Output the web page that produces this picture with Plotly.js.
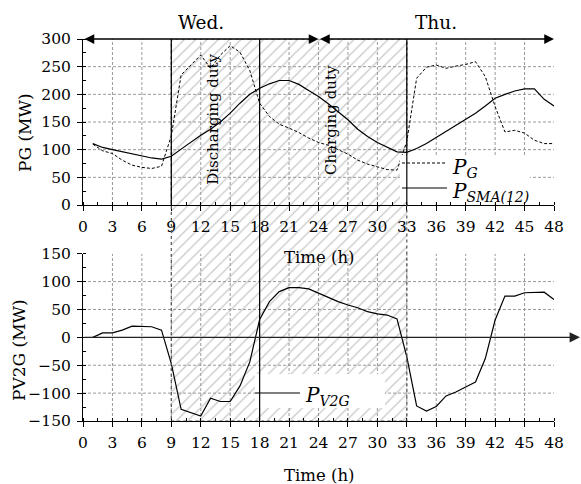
<!DOCTYPE html>
<html>
<head>
<meta charset="utf-8">
<script src="https://cdn.plot.ly/plotly-3.0.1.min.js"></script>
<style>html,body{margin:0;padding:0;background:#fff;}#chart{width:581px;height:484px;}</style>
</head>
<body>
<div id="chart"></div>
<script>
// ---- data ----
var hours = [1,2,3,4,5,6,7,8,9,10,11,12,13,14,15,16,17,18,19,20,21,22,23,24,
             25,26,27,28,29,30,31,32,33,34,35,36,37,38,39,40,41,42,43,44,45,46,47,48];
var pG = [110,98,93,81,72,68,66,70,125,235,253,271,247,271,288,276,243,184,160,146,139,131,121,113,
          108,100,92,81,74,69,64,63,115,229,249,253,247,251,254,259,232,178,132,135,130,117,111,111];
var pSMA = [111,104,100,96,92,88,85,83,88,101,114,126,137,150,166,184,200,211,219,225,225,218,207,196,
            183,169,154,137,124,113,104,96,95,102,111,122,132,143,154,166,179,193,200,206,210,210,191,179];
var pV2G = [0,8,8,13,20,20,19,13,-47,-129,-135,-141,-109,-115,-115,-87,-44,32,64,82,89,89,87,79,
            71,64,58,53,46,42,40,33,-35,-123,-132,-124,-105,-98,-89,-80,-38,31,74,74,80,81,81,68];
var xTickVals = [0,3,6,9,12,15,18,21,24,27,30,33,36,39,42,45,48];
var gridX = [3,6,9,12,15,18,21,24,27,30,33,36,39,42,45];
var gridYTop = [50,100,150,200,250];
var gridYBot = [-100,-50,50,100];
var dutyStart = 9, dutyMid = 18, dutyEnd = 33, dayBreak = 24;
var dayLabels = ['Wed.', 'Thu.'];
var dayLabelX = [12, 36];

// ---- geometry helpers (pixels -> paper) ----
var L = 83, R = 554, T = 39, B = 421;
function pxX(p){ return (p - L) / (R - L); }
function pxY(p){ return (B - p) / (B - T); }

var serif = "'DejaVu Serif', 'Liberation Serif', serif";
var gridStyle = {color:'#9a9a9a', width:1, dash:'3px,2px'};

var traces = [
  { x:[dutyStart,dutyEnd,dutyEnd,dutyStart,dutyStart], y:[0,0,1,1,0], xaxis:'x', yaxis:'y',
    mode:'lines', line:{width:0}, fill:'toself', fillcolor:'rgba(0,0,0,0)',
    fillpattern:{shape:'/', size:8, solidity:0.16, fgcolor:'#c8c8c8', bgcolor:'rgba(255,255,255,0)'},
    hoverinfo:'skip', showlegend:false },
  { x:hours, y:pG, xaxis:'x2', yaxis:'y2', mode:'lines', name:'PG',
    line:{color:'#000', width:1, dash:'3px,2px'}, showlegend:false },
  { x:hours, y:pSMA, xaxis:'x2', yaxis:'y2', mode:'lines', name:'PSMA',
    line:{color:'#000', width:1.2}, showlegend:false },
  { x:hours, y:pV2G, xaxis:'x3', yaxis:'y3', mode:'lines', name:'PV2G',
    line:{color:'#000', width:1.2}, showlegend:false }
];

var shapes = [];
gridX.forEach(function(v){
  shapes.push({type:'line', xref:'x2', yref:'y2', x0:v, x1:v, y0:0, y1:300, line:gridStyle, layer:'below'});
  shapes.push({type:'line', xref:'x3', yref:'y3', x0:v, x1:v, y0:-150, y1:150, line:gridStyle, layer:'below'});
});
gridYTop.forEach(function(v){
  shapes.push({type:'line', xref:'x2', yref:'y2', x0:0, x1:48, y0:v, y1:v, line:gridStyle, layer:'below'});
});
gridYBot.forEach(function(v){
  shapes.push({type:'line', xref:'x3', yref:'y3', x0:0, x1:48, y0:v, y1:v, line:gridStyle, layer:'below'});
});
// hatched region border
shapes.push({type:'rect', xref:'x', yref:'y', x0:dutyStart, x1:dutyEnd, y0:0, y1:1,
  line:{color:'#555', width:1.2, dash:'dot'}, fillcolor:'rgba(0,0,0,0)', layer:'above'});
// legend white boxes
shapes.push({type:'rect', xref:'paper', yref:'paper', x0:pxX(400), x1:pxX(530), y0:pxY(202), y1:pxY(155),
  line:{width:0}, fillcolor:'#fff', layer:'above'});
shapes.push({type:'rect', xref:'paper', yref:'paper', x0:pxX(255), x1:pxX(385), y0:pxY(408), y1:pxY(374),
  line:{width:0}, fillcolor:'#fff', layer:'above'});
// duty boundary lines
shapes.push({type:'line', xref:'x2', yref:'y2', x0:dutyStart, x1:dutyStart, y0:0, y1:300, line:{color:'#000', width:1.2}, layer:'above'});
shapes.push({type:'line', xref:'x2', yref:'y2', x0:dutyEnd, x1:dutyEnd, y0:0, y1:300, line:{color:'#000', width:1.2}, layer:'above'});
shapes.push({type:'line', xref:'x', yref:'y', x0:dutyMid, x1:dutyMid, y0:0, y1:1, line:{color:'#000', width:1.2}, layer:'above'});
// legend sample lines
shapes.push({type:'line', xref:'paper', yref:'paper', x0:pxX(402), x1:pxX(447), y0:pxY(163), y1:pxY(163),
  line:{color:'#000', width:1, dash:'3px,2px'}, layer:'above'});
shapes.push({type:'line', xref:'paper', yref:'paper', x0:pxX(402), x1:pxX(447), y0:pxY(188), y1:pxY(188),
  line:{color:'#000', width:1.2}, layer:'above'});
shapes.push({type:'line', xref:'paper', yref:'paper', x0:pxX(255), x1:pxX(300), y0:pxY(393), y1:pxY(393),
  line:{color:'#000', width:1.2}, layer:'above'});

var tfont = {family:serif, size:15.5, color:'#000'};
var afont = {family:serif, size:16.5, color:'#000'};
function txt(o){ o.showarrow = false; o.xanchor = o.xanchor || 'center'; o.yanchor = 'middle'; return o; }
var annotations = [
  // day arrows
  {xref:'x2', yref:'y2', x:dayBreak, y:300, axref:'x2', ayref:'y2', ax:0, ay:300, text:'', showarrow:true,
   arrowside:'end+start', arrowhead:2, startarrowhead:2, arrowsize:1.5, startarrowsize:1.5, arrowwidth:1.3, arrowcolor:'#000', standoff:0, startstandoff:0},
  {xref:'x2', yref:'y2', x:48, y:300, axref:'x2', ayref:'y2', ax:dayBreak, ay:300, text:'', showarrow:true,
   arrowside:'end+start', arrowhead:2, startarrowhead:2, arrowsize:1.5, startarrowsize:1.5, arrowwidth:1.3, arrowcolor:'#000', standoff:0, startstandoff:0},
  // zero line arrow (bottom)
  {xref:'paper', yref:'y3', x:pxX(580), y:0, axref:'pixel', ayref:'pixel', ax:-(580-L), ay:0, text:'', showarrow:true,
   arrowhead:2, arrowsize:1.6, arrowwidth:1.3, arrowcolor:'#222', standoff:0},
  txt({xref:'x2', yref:'paper', x:dayLabelX[0], y:pxY(22), text:dayLabels[0], font:{family:serif, size:18.5, color:'#000'}}),
  txt({xref:'x2', yref:'paper', x:dayLabelX[1], y:pxY(22), text:dayLabels[1], font:{family:serif, size:18.5, color:'#000'}}),
  txt({xref:'x2', yref:'y2', x:13.25, y:154, text:'Discharging duty', textangle:-90, font:{family:serif, size:15, color:'#000'}}),
  txt({xref:'x2', yref:'y2', x:25.3, y:154, text:'Charging duty', textangle:-90, font:{family:serif, size:15, color:'#000'}}),
  txt({xref:'paper', yref:'paper', x:pxX(318.5), y:pxY(257), text:'Time (h)', font:afont}),
  txt({xref:'paper', yref:'paper', x:pxX(318.5), y:pxY(475), text:'Time (h)', font:afont}),
  txt({xref:'paper', yref:'paper', x:pxX(25), y:pxY(133), text:'PG (MW)', textangle:-90, font:{family:serif, size:17, color:'#000'}}),
  txt({xref:'paper', yref:'paper', x:pxX(19), y:pxY(350), text:'PV2G (MW)', textangle:-90, font:{family:serif, size:17, color:'#000'}}),
  // legend labels
  txt({xref:'paper', yref:'paper', x:pxX(450), y:pxY(168), xanchor:'left', text:'<i>P</i><sub><i>G</i></sub>', font:{family:serif, size:20, color:'#000'}}),
  txt({xref:'paper', yref:'paper', x:pxX(450), y:pxY(192), xanchor:'left', text:'<i>P</i><sub><i>SMA(12)</i></sub>', font:{family:serif, size:20, color:'#000'}}),
  txt({xref:'paper', yref:'paper', x:pxX(303), y:pxY(396), xanchor:'left', text:'<i>P</i><sub><i>V2G</i></sub>', font:{family:serif, size:20, color:'#000'}})
];

function xAxisCfg(anchor){
  return {domain:[0,1], anchor:anchor, range:[0,48], tickvals:xTickVals, ticks:'outside', ticklen:5, tickwidth:1, tickcolor:'#000',
    showline:true, linecolor:'#000', linewidth:1, showgrid:false, zeroline:false, tickfont:tfont, ticklabelstandoff:2,
    minor:{dtick:1.5, tick0:0, ticks:'inside', ticklen:3, tickwidth:1, tickcolor:'#000', showgrid:false}};
}
function yAxisCfg(anchor, dom, rng){
  return {domain:dom, anchor:anchor, range:rng, dtick:50, tick0:0, ticks:'outside', ticklen:5, tickwidth:1, tickcolor:'#000',
    showline:true, linecolor:'#000', linewidth:1, showgrid:false, zeroline:false, tickfont:tfont, ticklabelstandoff:3,
    minor:{dtick:25, tick0:0, ticks:'inside', ticklen:3, tickwidth:1, tickcolor:'#000', showgrid:false}};
}

var layout = {
  width:581, height:484, margin:{l:L, r:581-R, t:T, b:484-B, pad:0},
  paper_bgcolor:'#fff', plot_bgcolor:'rgba(0,0,0,0)', showlegend:false,
  font:{family:serif, color:'#000'},
  xaxis:{domain:[0,1], anchor:'y', range:[0,48], visible:false, fixedrange:true},
  yaxis:{domain:[0,1], anchor:'x', range:[0,1], visible:false, fixedrange:true},
  xaxis2:xAxisCfg('y2'),
  yaxis2:yAxisCfg('x2', [pxY(205), 1], [0,300]),
  xaxis3:xAxisCfg('y3'),
  yaxis3:yAxisCfg('x3', [0, pxY(253.7)], [-150,150]),
  shapes:shapes,
  annotations:annotations
};

Plotly.newPlot('chart', traces, layout, {staticPlot:true, displayModeBar:false});
</script>
</body>
</html>
